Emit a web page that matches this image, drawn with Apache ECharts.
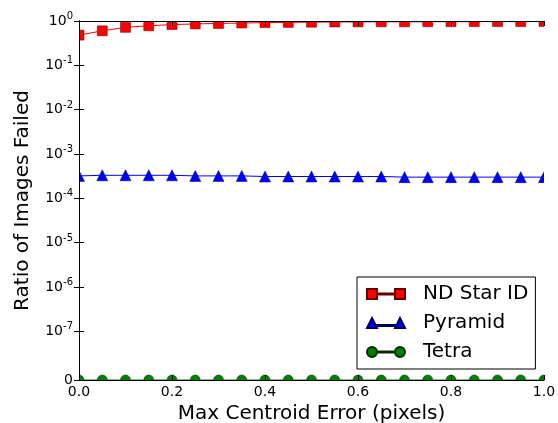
<!DOCTYPE html>
<html>
<head>
<meta charset="utf-8">
<script src="https://cdn.jsdelivr.net/npm/echarts@6/dist/echarts.min.js"></script>
<style>html,body{margin:0;padding:0;background:#fff;}#c{width:558px;height:423px;}</style>
</head>
<body>
<div id="c"></div>
<script>
var xValues = [0.00, 0.05, 0.10, 0.15, 0.20, 0.25, 0.30, 0.35, 0.40, 0.45, 0.50, 0.55, 0.60, 0.65, 0.70, 0.75, 0.80, 0.85, 0.90, 0.95, 1.00];
var ndStarId = [0.48, 0.60, 0.72, 0.78, 0.83, 0.86, 0.88, 0.90, 0.92, 0.93, 0.94, 0.95, 0.955, 0.96, 0.96, 0.965, 0.965, 0.97, 0.97, 0.97, 0.975];
var pyramid = [3.2e-4, 3.3e-4, 3.3e-4, 3.3e-4, 3.3e-4, 3.2e-4, 3.2e-4, 3.2e-4, 3.1e-4, 3.1e-4, 3.1e-4, 3.1e-4, 3.1e-4, 3.1e-4, 3.0e-4, 3.0e-4, 3.0e-4, 3.0e-4, 3.0e-4, 3.0e-4, 3.0e-4];
var tetra = [0, 0, 0, 0, 0, 0, 0, 0, 0, 0, 0, 0, 0, 0, 0, 0, 0, 0, 0, 0, 0];
var xTicks = [0.0, 0.2, 0.4, 0.6, 0.8, 1.0];
var seriesNames = ['ND Star ID', 'Pyramid', 'Tetra'];

var FONT = 'DejaVu Sans';
var Y_FLOOR = Math.pow(10, -8.1); // position where "0" is drawn
var yTicks = [Y_FLOOR, 1e-7, 1e-6, 1e-5, 1e-4, 1e-3, 1e-2, 1e-1, 1];
var G = {left: 79, right: 14, top: 21, bottom: 43};
var W = 558, H = 423;
function toPts(vals) {
  return vals.map(function (v, i) { return [xValues[i], v <= 0 ? Y_FLOOR : v]; });
}
function yLabel(v) {
  var e = Math.log10(v);
  if (e < -8.05) return '{b|0}';
  var r = Math.round(e);
  if (Math.abs(e - r) > 0.01 || r === -8) return '';
  return '{b|10}{s|' + r + '}';
}
var yRich = {
  b: {fontSize: 14, fontFamily: FONT, color: '#000'},
  s: {fontSize: 10, fontFamily: FONT, color: '#000', verticalAlign: 'bottom', padding: [0, 0, 9, 0]}
};

var chart = echarts.init(document.getElementById('c'), null, {renderer: 'canvas'});
var sqIcon = 'path://M0,0 h10 v10 h-10 Z M10,4.5 h18 v1 h-18 Z M28,0 h10 v10 h-10 Z';
var triIcon = 'path://M0,10 L5,0 L10,10 Z M10,7 h18 v1 h-18 Z M28,10 L33,0 L38,10 Z';
var cirIcon = 'path://M0,5 A5,5 0 1,1 10,5 A5,5 0 1,1 0,5 Z M10,4.5 h18 v1 h-18 Z M28,5 A5,5 0 1,1 38,5 A5,5 0 1,1 28,5 Z';

// white masks outside the plotting area so marks are clipped like the original
var masks = [
  {x: 0, y: 0, width: W, height: G.top},
  {x: 0, y: H - G.bottom, width: W, height: G.bottom},
  {x: 0, y: 0, width: G.left, height: H},
  {x: W - G.right, y: 0, width: G.right, height: H}
].map(function (s) {
  return {type: 'rect', z: 10, silent: true, shape: s, style: {fill: '#fff'}};
});

var axisCommon = {
  axisLine: {show: true, lineStyle: {color: '#000', width: 1}},
  splitLine: {show: false},
  z: 50
};
var xTick = {show: true, inside: true, length: 5, lineStyle: {color: '#000'}};
var yTick = {show: true, inside: true, length: 5, lineStyle: {color: '#000'}, customValues: yTicks};

chart.setOption({
  animation: false,
  backgroundColor: '#fff',
  grid: {left: G.left, right: G.right, top: G.top, bottom: G.bottom, containLabel: false, outerBoundsMode: 'none'},
  graphic: masks,
  xAxis: [Object.assign({
    type: 'value', min: 0, max: 1, interval: 0.2,
    name: 'Max Centroid Error (pixels)', nameLocation: 'middle', nameGap: 18,
    nameTextStyle: {fontSize: 20, fontFamily: FONT, color: '#000'},
    axisTick: xTick,
    axisLabel: {fontSize: 14, fontFamily: FONT, color: '#000', margin: 5,
      formatter: function (v) { return v.toFixed(1); }}
  }, axisCommon), Object.assign({
    type: 'value', min: 0, max: 1, interval: 0.2, position: 'top',
    axisTick: xTick,
    axisLabel: {show: false}
  }, axisCommon)],
  yAxis: [Object.assign({
    type: 'log', logBase: 10, min: Y_FLOOR, max: 1,
    name: 'Ratio of Images Failed', nameLocation: 'middle', nameGap: 46,
    nameTextStyle: {fontSize: 20, fontFamily: FONT, color: '#000'},
    axisTick: yTick,
    axisLabel: {margin: 6, fontSize: 14, fontFamily: FONT, color: '#000', formatter: yLabel, rich: yRich,
      customValues: yTicks, showMinLabel: true, showMaxLabel: true}
  }, axisCommon), Object.assign({
    type: 'log', logBase: 10, min: Y_FLOOR, max: 1, position: 'right',
    axisTick: yTick,
    axisLabel: {show: false}
  }, axisCommon)],
  legend: {
    z: 60,
    orient: 'vertical', left: 357, top: 277,
    padding: [7, 7, 7, 9], itemGap: 9, itemWidth: 38, itemHeight: 10,
    borderColor: '#000', borderWidth: 1, backgroundColor: '#fff',
    textStyle: {fontSize: 20, fontFamily: FONT, color: '#000', lineHeight: 20, padding: [0, 0, 0, 13]},
    data: [
      {name: seriesNames[0], icon: sqIcon},
      {name: seriesNames[1], icon: triIcon},
      {name: seriesNames[2], icon: cirIcon}
    ]
  },
  series: [{
    name: seriesNames[0], type: 'line', data: toPts(ndStarId), clip: false,
    symbol: 'rect', symbolSize: 10,
    lineStyle: {color: '#ff0000', width: 1},
    itemStyle: {color: '#ff0000', borderColor: '#600', borderWidth: 0.5}
  }, {
    name: seriesNames[1], type: 'line', data: toPts(pyramid), clip: false,
    symbol: 'triangle', symbolSize: 11,
    lineStyle: {color: '#0000ff', width: 1},
    itemStyle: {color: '#0000ff', borderColor: '#000060', borderWidth: 0.5}
  }, {
    name: seriesNames[2], type: 'line', data: toPts(tetra), clip: false,
    symbol: 'circle', symbolSize: 10,
    lineStyle: {color: '#008000', width: 1},
    itemStyle: {color: '#008000', borderColor: '#003000', borderWidth: 0.5}
  }]
});
</script>
</body>
</html>
